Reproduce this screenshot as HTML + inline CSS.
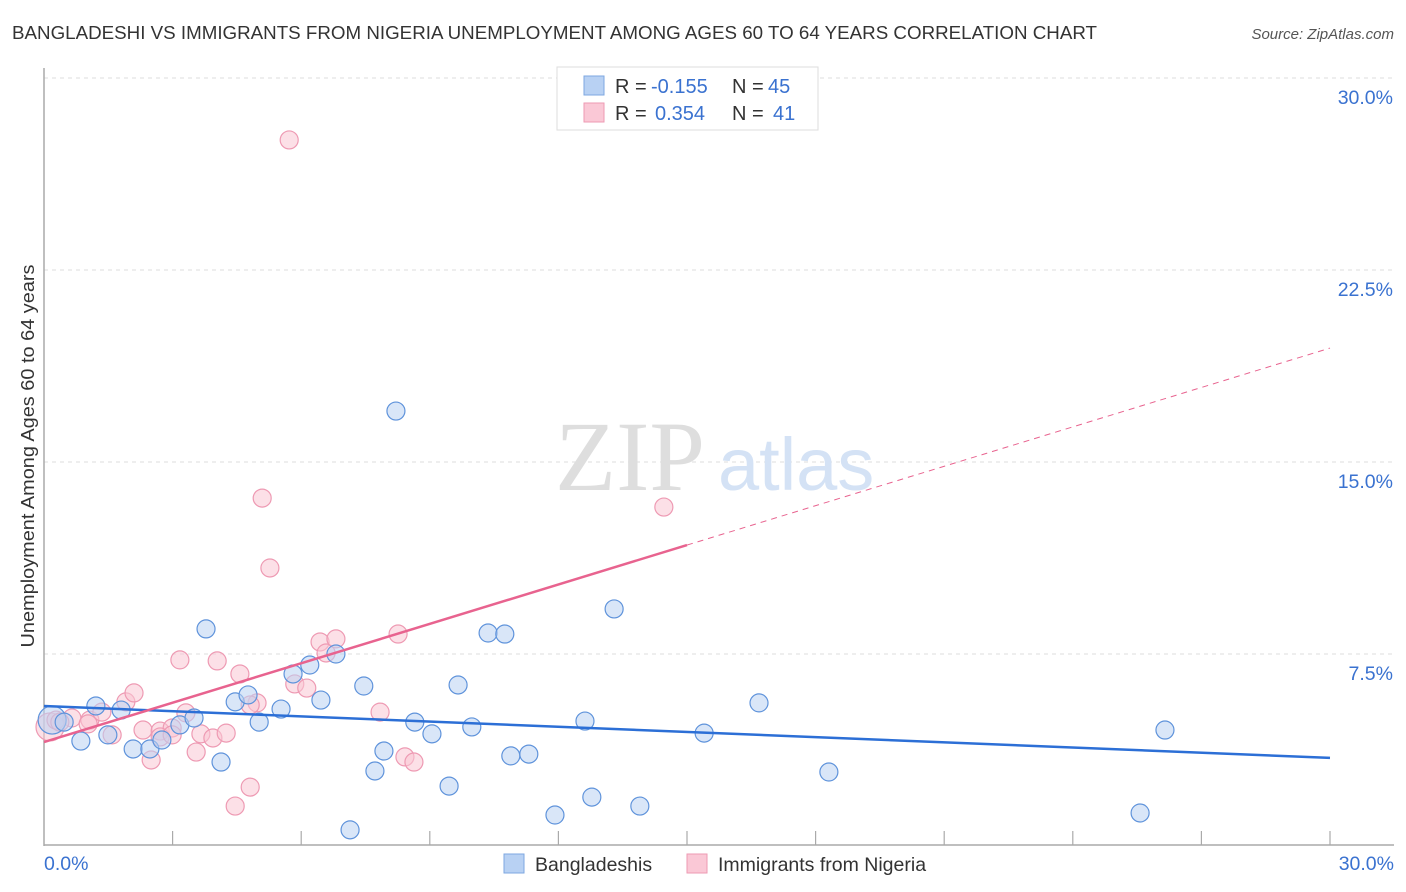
<!DOCTYPE html>
<html><head><meta charset="utf-8"><style>
body{margin:0;background:#fff;font-family:"Liberation Sans",sans-serif;}
svg{display:block}
</style></head><body>
<svg width="1406" height="892" viewBox="0 0 1406 892" xmlns="http://www.w3.org/2000/svg">
<text x="12" y="39" font-size="18.5" fill="#333" textLength="1085" lengthAdjust="spacingAndGlyphs">BANGLADESHI VS IMMIGRANTS FROM NIGERIA UNEMPLOYMENT AMONG AGES 60 TO 64 YEARS CORRELATION CHART</text>
<text x="1394" y="39" font-size="15" fill="#555" font-style="italic" text-anchor="end">Source: ZipAtlas.com</text>
<g id="grid"></g>
<text x="555" y="490" font-family="Liberation Serif,serif" font-size="100" fill="#dedede">ZIP</text>
<text x="718" y="490" font-size="74" fill="#d4e2f5">atlas</text>
<g id="axes"></g>
<g id="pts"></g>
<g id="lines"></g>
<text transform="translate(34,456) rotate(-90)" font-size="18" fill="#333" text-anchor="middle" textLength="383" lengthAdjust="spacingAndGlyphs">Unemployment Among Ages 60 to 64 years</text>
<g>
<rect x="557" y="67" width="261" height="63" fill="#fff" stroke="#ddd"/>
<rect x="584" y="76" width="20" height="19" fill="#b8d1f3" stroke="#7ea7e0"/>
<rect x="584" y="103" width="20" height="19" fill="#fac8d6" stroke="#ee9ab3"/>
<text x="615" y="93" font-size="20" fill="#333">R = <tspan x="651" fill="#3a72d0">-0.155</tspan><tspan x="732">N = </tspan><tspan x="768" fill="#3a72d0">45</tspan></text>
<text x="615" y="120" font-size="20" fill="#333">R = <tspan x="655" fill="#3a72d0">0.354</tspan><tspan x="732">N = </tspan><tspan x="773" fill="#3a72d0">41</tspan></text>
</g>
<g>
<rect x="504" y="854" width="20" height="19" fill="#b8d1f3" stroke="#7ea7e0"/>
<text x="535" y="871" font-size="19.5" fill="#333">Bangladeshis</text>
<rect x="687" y="854" width="20" height="19" fill="#fac8d6" stroke="#ee9ab3"/>
<text x="718" y="871" font-size="19.5" fill="#333">Immigrants from Nigeria</text>
</g>
</svg>
<script>
const blueX=[0.19,0.47,0.86,1.21,1.49,1.80,2.08,2.47,2.75,3.17,3.50,3.78,4.13,4.46,4.76,5.02,5.53,5.81,6.20,6.46,6.81,7.14,7.46,7.72,7.93,8.21,8.65,9.05,9.45,9.66,9.98,10.36,10.75,10.89,11.31,11.92,12.62,12.78,13.30,13.90,15.40,16.68,18.31,25.57,26.15];
const blueY=[4.92,4.84,4.10,5.47,4.34,5.31,3.79,3.79,4.14,4.73,5.00,8.48,3.28,5.63,5.90,4.84,5.35,6.72,7.07,5.70,7.50,0.63,6.25,2.93,3.71,16.99,4.84,4.38,2.34,6.29,4.65,8.32,8.28,3.52,3.59,1.21,4.88,1.91,9.26,1.56,4.41,5.59,2.89,1.29,4.53];
const pinkX=[0.14,0.28,0.65,1.07,1.35,1.59,1.91,2.10,2.31,2.50,2.71,2.99,3.17,3.31,3.55,3.66,3.94,4.04,4.25,4.46,4.57,4.81,4.97,5.09,5.27,5.72,5.85,6.13,6.44,6.58,6.81,7.84,8.26,8.42,8.63,14.46,0.37,1.03,2.71,2.99,4.81];
const pinkY=[4.65,4.92,5.00,4.92,5.23,4.34,5.63,5.98,4.53,3.36,4.49,4.61,7.27,5.20,3.67,4.38,4.22,7.23,4.41,1.56,6.72,2.30,5.59,13.59,10.86,27.58,6.33,6.17,7.97,7.54,8.09,5.23,8.28,3.48,3.28,13.24,4.84,4.77,4.26,4.34,5.51];
const yTicks=[7.5,15,22.5,30];
const yTickLabels=["7.5%","15.0%","22.5%","30.0%"];
const blueTrend=[5.47,3.44];
const pinkTrend=[4.06,19.45];
const pinkSolidEnd=15;
const NS="http://www.w3.org/2000/svg";
const sx=v=>44+v*(1330-44)/30;
const sy=v=>846-v*(846-78)/30;
function mk(tag,attrs,parent){const e=document.createElementNS(NS,tag);for(const k in attrs)e.setAttribute(k,attrs[k]);parent.appendChild(e);return e;}
const grid=document.getElementById('grid'),axes=document.getElementById('axes'),pts=document.getElementById('pts'),lines=document.getElementById('lines');
yTicks.forEach((t,i)=>{
  const l=mk('line',{x1:44,x2:1394,y1:sy(t),y2:sy(t),stroke:'#ddd','stroke-dasharray':'4,4'},grid);
  
  
  const tx=mk('text',{x:1393,y:sy(t)+26,'font-size':19.5,fill:'#3a72d0','text-anchor':'end'},axes);
  tx.textContent=yTickLabels[i];
  
  
});
mk('line',{x1:44,x2:44,y1:68,y2:846,stroke:'#aaa','stroke-width':1.5},axes);
mk('line',{x1:44,x2:1394,y1:845,y2:845,stroke:'#aaa','stroke-width':1.5},axes);
for(let i=1;i<=10;i++){const t=mk('line',{x1:sx(i*3),x2:sx(i*3),y1:831,y2:845,stroke:'#aaa','stroke-width':1.2},axes);

}
const xl0=mk('text',{x:44,y:870,'font-size':19.5,fill:'#3a72d0'},axes);xl0.textContent='0.0%';


const xl1=mk('text',{x:1394,y:870,'font-size':19.5,fill:'#3a72d0','text-anchor':'end'},axes);xl1.textContent='30.0%';


function drawPts(X,Y,fill,stroke,name){X.forEach((x,i)=>{
  const r=i===0?14:9;
  const c=mk('circle',{cx:sx(x),cy:sy(Y[i]),r:r,fill:fill,'fill-opacity':0.55,stroke:stroke,'stroke-width':1.2},pts);
  
  
});}
drawPts(pinkX,pinkY,'#f9c6d4','#ee9ab3','point-nigeria');
drawPts(blueX,blueY,'#bad2f3','#5f93db','point-bangladeshi');
const bl=mk('line',{x1:sx(0),y1:sy(blueTrend[0]),x2:sx(30),y2:sy(blueTrend[1]),stroke:'#2c6fd6','stroke-width':2.5},lines);


const pm=pinkTrend[0]+(pinkTrend[1]-pinkTrend[0])*pinkSolidEnd/30;
const pl=mk('line',{x1:sx(0),y1:sy(pinkTrend[0]),x2:sx(pinkSolidEnd),y2:sy(pm),stroke:'#e8638f','stroke-width':2.5},lines);


const pd=mk('line',{x1:sx(pinkSolidEnd),y1:sy(pm),x2:sx(30),y2:sy(pinkTrend[1]),stroke:'#e8638f','stroke-width':1,'stroke-dasharray':'6,5'},lines);


</script>
</body></html>
